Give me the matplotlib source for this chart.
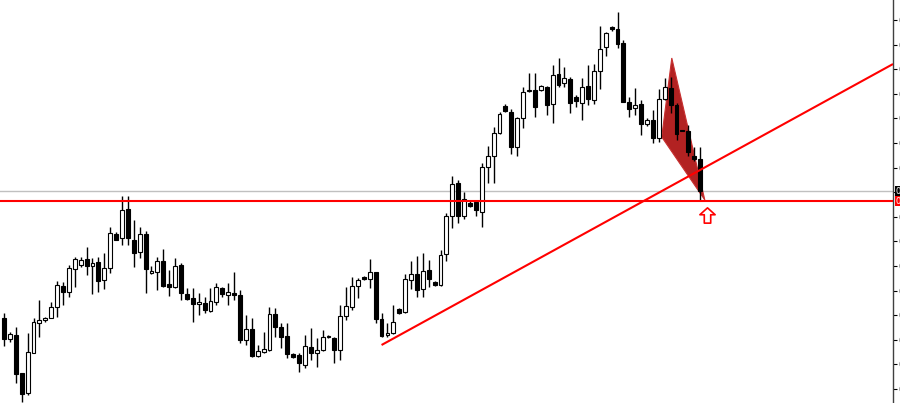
import numpy as np
import matplotlib
matplotlib.use('Agg')
import matplotlib.pyplot as plt
from matplotlib.patches import Rectangle, Polygon
from matplotlib.path import Path

# OHLC, one entry per bar
opens = [0.7682, 0.7661, 0.7665, 0.7627, 0.7607, 0.7647, 0.7677, 0.7680, 0.7682, 0.7693,
         0.7714, 0.7708, 0.7731, 0.7735, 0.7741, 0.7734, 0.7738, 0.7720, 0.7732, 0.7766,
         0.7762, 0.7791, 0.7760, 0.7748, 0.7766, 0.7727, 0.7728, 0.7739, 0.7716, 0.7713,
         0.7735, 0.7706, 0.7702, 0.7696, 0.7697, 0.7689, 0.7698, 0.7712, 0.7705, 0.7707,
         0.7705, 0.7660, 0.7671, 0.7644, 0.7648, 0.7650, 0.7686, 0.7673, 0.7664, 0.7646,
         0.7645, 0.7635, 0.7653, 0.7647, 0.7650, 0.7663, 0.7662, 0.7650, 0.7684, 0.7693,
         0.7714, 0.7723, 0.7721, 0.7728, 0.7681, 0.7665, 0.7667, 0.7691, 0.7688, 0.7720,
         0.7726, 0.7711, 0.7730, 0.7718, 0.7715, 0.7746, 0.7784, 0.7817, 0.7784, 0.7797,
         0.7798, 0.7788, 0.7833, 0.7844, 0.7867, 0.7894, 0.7888, 0.7853, 0.7882, 0.7909,
         0.7910, 0.7910, 0.7913, 0.7896, 0.7926, 0.7917, 0.7921, 0.7903, 0.7897, 0.7914,
         0.7900, 0.7929, 0.7953, 0.7973, 0.7971, 0.7957, 0.7898, 0.7892, 0.7896, 0.7876,
         0.7880, 0.7862, 0.7901, 0.7912, 0.7895, 0.7870, 0.7869, 0.7844, 0.7841]
highs = [0.7687, 0.7668, 0.7673, 0.7627, 0.7667, 0.7682, 0.7700, 0.7683, 0.7698, 0.7719,
         0.7718, 0.7735, 0.7743, 0.7743, 0.7753, 0.7742, 0.7743, 0.7747, 0.7773, 0.7768,
         0.7804, 0.7804, 0.7780, 0.7773, 0.7769, 0.7734, 0.7743, 0.7751, 0.7730, 0.7742,
         0.7737, 0.7712, 0.7712, 0.7707, 0.7703, 0.7712, 0.7717, 0.7713, 0.7717, 0.7728,
         0.7710, 0.7685, 0.7682, 0.7655, 0.7668, 0.7693, 0.7692, 0.7677, 0.7677, 0.7647,
         0.7647, 0.7665, 0.7672, 0.7662, 0.7670, 0.7665, 0.7663, 0.7695, 0.7713, 0.7723,
         0.7722, 0.7724, 0.7741, 0.7728, 0.7687, 0.7677, 0.7695, 0.7692, 0.7726, 0.7739,
         0.7744, 0.7747, 0.7740, 0.7719, 0.7750, 0.7787, 0.7824, 0.7820, 0.7808, 0.7799,
         0.7800, 0.7837, 0.7854, 0.7873, 0.7888, 0.7896, 0.7891, 0.7883, 0.7913, 0.7927,
         0.7927, 0.7915, 0.7914, 0.7935, 0.7942, 0.7933, 0.7923, 0.7905, 0.7922, 0.7935,
         0.7936, 0.7974, 0.7968, 0.7974, 0.7988, 0.7960, 0.7903, 0.7912, 0.7900, 0.7882,
         0.7890, 0.7911, 0.7922, 0.7923, 0.7897, 0.7870, 0.7875, 0.7853, 0.7853]
lows = [0.7654, 0.7658, 0.7617, 0.7598, 0.7605, 0.7647, 0.7663, 0.7678, 0.7682, 0.7683,
        0.7695, 0.7703, 0.7713, 0.7733, 0.7725, 0.7706, 0.7708, 0.7711, 0.7727, 0.7760,
        0.7755, 0.7755, 0.7733, 0.7742, 0.7707, 0.7726, 0.7710, 0.7713, 0.7704, 0.7712,
        0.7700, 0.7700, 0.7678, 0.7685, 0.7687, 0.7688, 0.7695, 0.7703, 0.7695, 0.7700,
        0.7657, 0.7655, 0.7643, 0.7643, 0.7647, 0.7649, 0.7663, 0.7652, 0.7642, 0.7642,
        0.7628, 0.7632, 0.7640, 0.7633, 0.7649, 0.7662, 0.7637, 0.7640, 0.7680, 0.7690,
        0.7702, 0.7720, 0.7712, 0.7677, 0.7663, 0.7663, 0.7666, 0.7686, 0.7687, 0.7711,
        0.7703, 0.7703, 0.7713, 0.7714, 0.7714, 0.7739, 0.7772, 0.7777, 0.7781, 0.7793,
        0.7784, 0.7773, 0.7817, 0.7817, 0.7866, 0.7888, 0.7846, 0.7844, 0.7872, 0.7908,
        0.7883, 0.7909, 0.7885, 0.7877, 0.7913, 0.7913, 0.7887, 0.7893, 0.7880, 0.7895,
        0.7896, 0.7911, 0.7944, 0.7969, 0.7952, 0.7898, 0.7883, 0.7885, 0.7865, 0.7874,
        0.7857, 0.7858, 0.7900, 0.7887, 0.7860, 0.7869, 0.7844, 0.7839, 0.7799]
closes = [0.7661, 0.7666, 0.7626, 0.7606, 0.7648, 0.7678, 0.7680, 0.7682, 0.7693, 0.7715,
          0.7708, 0.7732, 0.7741, 0.7740, 0.7734, 0.7737, 0.7719, 0.7732, 0.7767, 0.7760,
          0.7790, 0.7762, 0.7747, 0.7766, 0.7731, 0.7729, 0.7739, 0.7714, 0.7713, 0.7734,
          0.7707, 0.7701, 0.7696, 0.7698, 0.7690, 0.7699, 0.7713, 0.7706, 0.7708, 0.7705,
          0.7660, 0.7671, 0.7644, 0.7649, 0.7651, 0.7686, 0.7673, 0.7663, 0.7646, 0.7643,
          0.7637, 0.7654, 0.7647, 0.7650, 0.7663, 0.7664, 0.7650, 0.7684, 0.7694, 0.7714,
          0.7720, 0.7721, 0.7728, 0.7681, 0.7664, 0.7667, 0.7678, 0.7687, 0.7721, 0.7726,
          0.7710, 0.7729, 0.7721, 0.7715, 0.7745, 0.7784, 0.7816, 0.7784, 0.7801, 0.7794,
          0.7790, 0.7833, 0.7844, 0.7867, 0.7886, 0.7889, 0.7853, 0.7882, 0.7908, 0.7910,
          0.7893, 0.7914, 0.7895, 0.7925, 0.7915, 0.7922, 0.7897, 0.7899, 0.7913, 0.7901,
          0.7929, 0.7951, 0.7967, 0.7971, 0.7956, 0.7898, 0.7891, 0.7895, 0.7876, 0.7880,
          0.7862, 0.7901, 0.7913, 0.7895, 0.7866, 0.7869, 0.7848, 0.7841, 0.7809]

level_price = 0.7799
# drawn objects: triangle, trend ray, signal arrow (bar index, price)
tri_x = [111.5, 113.2, 118.8]
tri_p = [0.7863, 0.7942, 0.7800]
trend_x = [64, 118]
trend_p = [0.7655, 0.7830]
arrow_x = 119.1
arrow_p = 0.7785

x_min, x_max = -0.68, 150.7
p_min, p_max = 0.7597, 0.8000

fig = plt.figure(figsize=(9, 4.03), dpi=100)
ax = fig.add_axes([0, 0, 893 / 900, 1])

n = len(opens)
for i in range(n):
    o, h, l, c = opens[i], highs[i], lows[i], closes[i]
    ax.vlines(i, l, h, color='black', lw=1, zorder=3)
    face = 'white' if c >= o else 'black'
    ax.add_patch(Rectangle((i - 0.33, min(o, c)), 0.66, abs(c - o),
                           facecolor=face, edgecolor='black', lw=0.8, zorder=4))

ax.add_patch(Polygon(list(zip(tri_x, tri_p)), closed=True, facecolor='#b22222',
                     edgecolor='#c83030', lw=0.8, zorder=2))

# trend line as a ray to the right edge
slope = (trend_p[1] - trend_p[0]) / (trend_x[1] - trend_x[0])
ax.plot([trend_x[0], x_max], [trend_p[0], trend_p[0] + slope * (x_max - trend_x[0])],
        color='red', lw=1.5, zorder=5, solid_capstyle='butt')

ax.axhline(closes[-1], color='#c0c0c0', lw=1, zorder=1)
ax.axhline(level_price, color='red', lw=1.5, zorder=5)

arrow = Path([(0, 1), (1, 0.1), (0.42, 0.1), (0.42, -1), (-0.42, -1), (-0.42, 0.1),
              (-1, 0.1), (0, 1)],
             [Path.MOVETO] + [Path.LINETO] * 6 + [Path.CLOSEPOLY])
ax.plot([arrow_x], [arrow_p], marker=arrow, markersize=11, markerfacecolor='white',
        markeredgecolor='red', markeredgewidth=1.2, zorder=6)

ax.set_xlim(x_min, x_max)
ax.set_ylim(p_min, p_max)
ax.set_xticks([])
ticks = 0.7980 - np.arange(16) * 0.00246
ax.set_yticks(ticks)
ax.set_yticklabels(['%.5f' % t for t in ticks])
ax.yaxis.tick_right()
ax.tick_params(axis='y', direction='out', length=3, width=0.8, labelsize=7, pad=1,
               colors='black')
for side in ['left', 'top', 'bottom']:
    ax.spines[side].set_visible(False)
ax.spines['right'].set_color('#404040')
ax.spines['right'].set_linewidth(1)

trans = ax.get_yaxis_transform()
ax.text(1.003, closes[-1], '%.5f' % closes[-1], transform=trans, color='white', fontsize=6,
        va='center', ha='left', clip_on=False, zorder=7,
        bbox=dict(facecolor='black', edgecolor='none', pad=0.6))
ax.text(1.003, level_price, '%.5f' % level_price, transform=trans, color='white', fontsize=6,
        va='center', ha='left', clip_on=False, zorder=7,
        bbox=dict(facecolor='red', edgecolor='none', pad=0.6))

fig.savefig('out.png', dpi=100)
